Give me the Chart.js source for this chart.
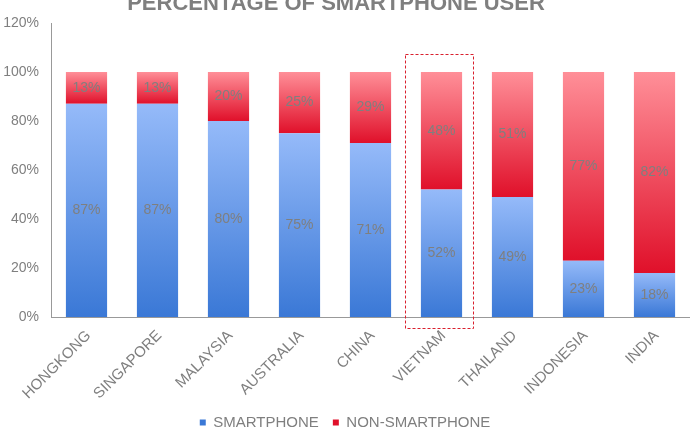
<!DOCTYPE html>
<html>
<head>
<meta charset="utf-8">
<script src="https://cdn.jsdelivr.net/npm/chart.js@4"></script>
<style>
  body { margin: 0; background: #fff; }
  #wrap { width: 690px; height: 434px; }
</style>
</head>
<body>
<div id="wrap"><canvas id="mycanvas" width="690" height="434"></canvas></div>
<script>
var countries = ['HONGKONG', 'SINGAPORE', 'MALAYSIA', 'AUSTRALIA', 'CHINA', 'VIETNAM', 'THAILAND', 'INDONESIA', 'INDIA'];
var smartphone = [87, 87, 80, 75, 71, 52, 49, 23, 18];
var nonSmartphone = [13, 13, 20, 25, 29, 48, 51, 77, 82];
var highlightIndex = 5;

var gray = '#7f7f7f';
var font = 'Liberation Sans, Arial, sans-serif';

function segFill(context, light, dark) {
	var chart = context.chart;
	var area = chart.chartArea;
	if (!area || context.dataIndex === undefined) return dark;
	var i = context.dataIndex;
	var base = context.datasetIndex === 0 ? 0 : smartphone[i];
	var val = context.datasetIndex === 0 ? smartphone[i] : nonSmartphone[i];
	var y = chart.scales.y;
	var top = y.getPixelForValue(base + val);
	var bot = y.getPixelForValue(base);
	var g = chart.ctx.createLinearGradient(0, top, 0, bot);
	g.addColorStop(0, light);
	g.addColorStop(1, dark);
	return g;
}

// title, cut off at the top like the original
var titlePlugin = {
	id: 'topTitle',
	afterDraw: function(chart) {
		var c = chart.ctx;
		c.save();
		c.font = 'bold 22px ' + font;
		c.fillStyle = gray;
		c.textAlign = 'center';
		c.textBaseline = 'alphabetic';
		c.fillText('PERCENTAGE OF SMARTPHONE USER', 336, 10);
		c.restore();
	}
};

var valueLabels = {
	id: 'valueLabels',
	afterDatasetsDraw: function(chart) {
		var c = chart.ctx;
		c.save();
		c.font = '14px ' + font;
		c.fillStyle = gray;
		c.textAlign = 'center';
		c.textBaseline = 'middle';
		chart.data.datasets.forEach(function(ds, di) {
			var meta = chart.getDatasetMeta(di);
			meta.data.forEach(function(bar, i) {
				var p = bar.getProps(['x', 'y', 'base'], true);
				c.fillText(ds.data[i] + '%', p.x, (p.y + p.base) / 2);
			});
		});
		c.restore();
	}
};

var highlightBox = {
	id: 'highlightBox',
	afterDraw: function(chart) {
		var x = chart.scales.x, y = chart.scales.y;
		var cx = x.getPixelForValue(highlightIndex);
		var half = (x.getPixelForValue(1) - x.getPixelForValue(0)) * 0.48;
		var top = y.getPixelForValue(107.5);
		var bot = y.getPixelForValue(-4.5);
		var c = chart.ctx;
		c.save();
		c.strokeStyle = '#d9202e';
		c.lineWidth = 1;
		c.setLineDash([3, 2]);
		c.strokeRect(Math.round(cx - half - 2) + 0.5, Math.round(top) + 0.5, Math.round(half * 2), Math.round(bot - top));
		c.restore();
	}
};

var chartdata = {
	labels: countries,
	datasets: [
		{
			label: 'SMARTPHONE',
			data: smartphone,
			backgroundColor: function(ctx) { return segFill(ctx, '#95baf9', '#3a78d6'); },
			barPercentage: 0.58,
			categoryPercentage: 1
		},
		{
			label: 'NON-SMARTPHONE',
			data: nonSmartphone,
			backgroundColor: function(ctx) { return segFill(ctx, '#ff8f98', '#e0102a'); },
			barPercentage: 0.58,
			categoryPercentage: 1
		}
	]
};

var ctx = document.getElementById('mycanvas');
var barGraph = new Chart(ctx, {
	type: 'bar',
	data: chartdata,
	plugins: [titlePlugin, valueLabels, highlightBox],
	options: {
		responsive: false,
		animation: false,
		layout: { padding: { top: 23, right: 0, left: 0, bottom: -6 } },
		plugins: {
			tooltip: { enabled: false },
			legend: {
				position: 'bottom',
				labels: {
					boxWidth: 6,
					boxHeight: 6,
					color: gray,
					font: { family: font, size: 15 },
					padding: 14
				}
			}
		},
		scales: {
			x: {
				stacked: true,
				grid: { display: false, drawTicks: false },
				border: { color: '#999' },
				ticks: {
					color: gray,
					font: { family: font, size: 15 },
					minRotation: 45,
					maxRotation: 45,
					padding: 10,
					labelOffset: 2
				},
				afterFit: function(s) { s.height = 84; }
			},
			y: {
				stacked: true,
				min: 0,
				max: 120,
				grid: { display: false, drawTicks: false },
				border: { color: '#999' },
				ticks: {
					stepSize: 20,
					color: gray,
					font: { family: font, size: 14 },
					padding: 12,
					callback: function(v) { return v + '%'; }
				},
				afterFit: function(s) { s.width = 51; }
			}
		}
	}
});
</script>
</body>
</html>
